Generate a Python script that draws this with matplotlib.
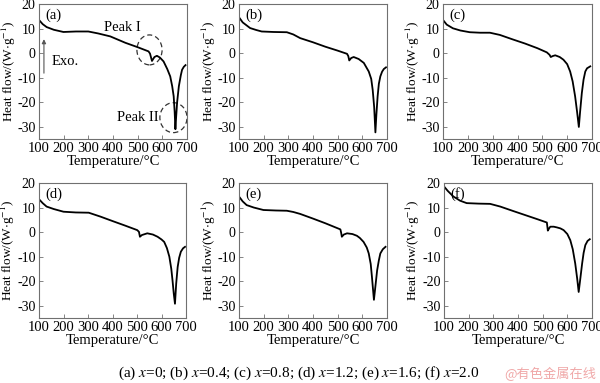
import matplotlib
matplotlib.use("Agg")
import matplotlib.pyplot as plt
from matplotlib.patches import Ellipse

plt.rcParams['font.family'] = ['Liberation Serif', 'DejaVu Serif']
plt.rcParams['mathtext.fontset'] = 'stix'
plt.rcParams['font.size'] = 10.5

# curvas DSC (temperatura en °C, flujo en W/g)
t_a = [100, 115, 131, 160, 199, 250, 300, 340, 389, 450, 500, 544, 550, 558, 568, 578, 590, 605, 620, 632, 640, 646, 650, 653, 656, 660, 667, 675, 680, 687, 694]
q_a = [13.5, 11.8, 10.6, 9.5, 8.6, 8.8, 8.8, 8.0, 6.8, 4.2, 2.4, 0.7, -0.2, -3.2, -1.6, -1.1, -1.8, -3.4, -6.5, -9.5, -13.5, -17.6, -24.0, -31.0, -26.0, -20.0, -13.5, -9.0, -6.8, -5.6, -4.9]

t_b = [100, 115, 145, 170, 192, 240, 294, 320, 348, 400, 450, 500, 538, 543, 547, 555, 565, 585, 606, 626, 636, 642, 648, 653, 657, 662, 667, 673, 680, 687, 696]
q_b = [14.6, 12.5, 10.2, 9.4, 8.8, 8.6, 8.5, 7.6, 6.1, 4.4, 2.6, 1.0, -0.3, -1.2, -3.0, -2.0, -1.6, -2.4, -4.0, -7.5, -10.5, -15.0, -22.0, -32.3, -25.0, -17.6, -12.5, -9.5, -7.6, -6.5, -5.8]

t_c = [100, 115, 140, 170, 208, 250, 289, 329, 380, 430, 480, 518, 529, 534, 542, 552, 570, 585, 600, 612, 622, 632, 640, 647, 652, 659, 666, 673, 680, 693]
q_c = [13.5, 11.6, 10.1, 9.2, 8.5, 8.3, 8.3, 7.4, 5.6, 3.9, 2.0, 0.3, -0.7, -1.6, -1.2, -0.9, -1.6, -2.7, -4.5, -7.5, -11.5, -17.6, -24.0, -30.1, -24.0, -16.3, -10.8, -7.5, -6.2, -5.4]

t_d = [100, 115, 131, 160, 200, 250, 303, 351, 400, 450, 501, 508, 512, 520, 542, 565, 584, 600, 611, 622, 632, 640, 645, 650, 655, 660, 666, 672, 679, 688, 696]
q_d = [13.4, 11.8, 10.4, 9.4, 8.3, 8.0, 7.9, 6.3, 4.5, 2.7, 0.8, 0.1, -1.9, -1.2, -0.5, -1.0, -1.9, -3.0, -4.0, -6.5, -10.0, -15.0, -19.7, -25.0, -29.2, -21.0, -14.2, -10.5, -8.0, -6.6, -6.0]

t_e = [100, 115, 131, 160, 199, 250, 294, 320, 348, 400, 450, 511, 514, 517, 525, 538, 560, 578, 590, 605, 618, 626, 634, 639, 643, 647, 652, 660, 667, 673, 683, 694]
q_e = [14.5, 12.5, 11.0, 10.0, 9.0, 8.8, 8.7, 8.2, 7.4, 5.5, 3.6, 1.1, -0.2, -1.9, -1.0, -0.5, -0.8, -1.5, -2.4, -4.0, -6.3, -8.7, -13.0, -18.3, -23.0, -27.6, -23.0, -15.6, -11.5, -8.7, -7.0, -6.0]

t_f = [100, 115, 138, 165, 192, 240, 287, 328, 380, 430, 480, 517, 521, 526, 531, 545, 558, 572, 585, 600, 612, 622, 632, 640, 646, 652, 660, 666, 673, 682, 691]
q_f = [18.6, 16.8, 14.5, 12.8, 11.8, 11.6, 11.5, 10.4, 8.6, 6.9, 5.2, 3.9, 0.6, 1.5, 2.2, 2.2, 1.9, 1.5, 0.8, -0.8, -3.3, -7.0, -12.8, -19.0, -24.4, -19.5, -12.8, -8.5, -5.3, -3.6, -2.9]

labels = ['(a)', '(b)', '(c)', '(d)', '(e)', '(f)']
curves = [(t_a, q_a), (t_b, q_b), (t_c, q_c), (t_d, q_d), (t_e, q_e), (t_f, q_f)]

x_ticks = [100, 200, 300, 400, 500, 600, 700]
y_ticks = [-30, -20, -10, 0, 10, 20]

W, H = 600, 383
# posiciones de los ejes en pixeles: izquierda, arriba, ancho, alto
boxes = [(39, 4, 148, 135), (239, 4, 148, 135), (443, 4, 149, 135),
         (39, 183, 147, 135), (239, 183, 148, 135), (444, 183, 148, 135)]

fig = plt.figure(figsize=(6, 3.83), dpi=100)
frame_col = '#707070'
fs = 10.5

axes = []
for (l, t, w, h), lab, (tt, qq) in zip(boxes, labels, curves):
    ax = fig.add_axes([l / W, 1 - (t + h) / H, w / W, h / H])
    ax.plot(tt, qq, color='black', lw=1.3)
    ax.set_xlim(100, 700)
    ax.set_ylim(-35, 20)
    ax.set_xticks(x_ticks)
    ax.set_yticks(y_ticks)
    ax.set_yticklabels([str(v) for v in y_ticks])
    ax.tick_params(direction='in', length=3, width=0.6, color=frame_col,
                   labelsize=fs, pad=2)
    ax.tick_params(axis='y', labelsize=10, pad=2.5)
    for s in ax.spines.values():
        s.set_color(frame_col)
        s.set_linewidth(0.8)
    ax.set_xlabel('Temperature/°C', fontsize=fs, labelpad=0)
    ax.set_ylabel(r'Heat flow/(W$\cdot$g$^{-1}$)', fontsize=9.5)
    # etiqueta y pegada al borde izquierdo como en la figura original
    ax.yaxis.set_label_coords(-21.5 / w, 0.5)
    ax.text(0.04, 0.97, lab, transform=ax.transAxes, fontsize=fs,
            ha='left', va='top')
    axes.append(ax)

# anotaciones del panel (a)
ax = axes[0]
ax.text(440, 10.6, 'Peak I', fontsize=fs, ha='center', va='center')
ax.text(500, -26.3, 'Peak II', fontsize=fs, ha='center', va='center')
ax.add_patch(Ellipse((548, 1.3), 102, 12.2, fill=False, ls=(0, (4, 2.5)),
                     lw=0.9, ec='#333333', clip_on=False))
ax.add_patch(Ellipse((645, -26.3), 110, 12.2, fill=False, ls=(0, (4, 2.5)),
                     lw=0.9, ec='#333333', clip_on=False))
ax.annotate('', xy=(120, 6.8), xytext=(120, -9.3),
            arrowprops=dict(arrowstyle='-|>', color='#555555', lw=0.8,
                            mutation_scale=6))
ax.text(152, -3.6, 'Exo.', fontsize=fs, ha='left', va='center')

fig.text(0.498, 1 - 373 / H, r'(a) $x$=0; (b) $x$=0.4; (c) $x$=0.8; (d) $x$=1.2; (e) $x$=1.6; (f) $x$=2.0',
         ha='center', va='center', fontsize=11)
fig.text(550 / W, 1 - 374 / H, '@有色金属在线', ha='center', va='center',
         fontsize=9.5, color='#f0a8a8', family=['Noto Sans CJK SC', 'DejaVu Sans'])

fig.savefig('out.png', dpi=100)
